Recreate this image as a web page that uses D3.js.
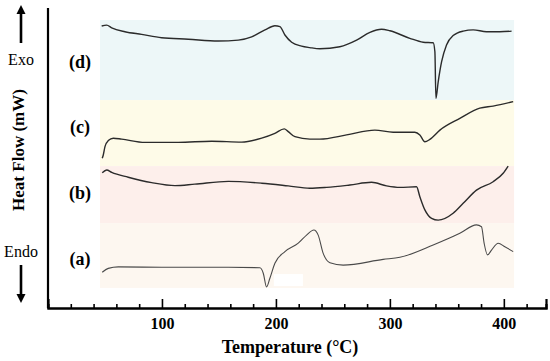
<!DOCTYPE html>
<html>
<head>
<meta charset="utf-8">
<script src="https://cdn.jsdelivr.net/npm/d3@7"></script>
<style>
	body { margin: 0; background: #fff; }
</style>
</head>
<body>
<div id="chart"></div>
<script>
var w = 550;
var h = 361;
var serif = "'Liberation Serif', 'Times New Roman', serif";

// temperature (C), heat flow (arbitrary, curves stacked)
var curveD = [[47.1,94.0],[51.5,94.3],[55.9,93.4],[67.5,92.1],[82.2,91.2],[99.7,90.1],[123.1,89.6],[149.4,89.0],[167,89.3],[178.7,90.4],[190.4,92.7],[199.1,94.1],[203.5,93.8],[207.9,91.0],[213.8,88.6],[222.5,87.3],[229.8,86.8],[238.6,86.4],[256.1,87.1],[270.8,89.3],[282.5,91.9],[292.7,92.9],[300,92.4],[317.5,89.9],[329.2,88.6],[338,88.4],[339.5,85.4],[340.4,69.9],[342.4,75.4],[345.4,82.1],[349.7,87.7],[355.5,90.8],[364.3,92.3],[373.1,92.7],[384.8,92.1],[396.5,92.1],[406.8,92.3]];
var curveC = [[47.6,49.9],[48.5,51],[50,53.8],[52.9,55.8],[57.3,56.6],[64.6,56.3],[85.1,55.2],[114.3,55.2],[143.6,55.6],[169.9,55.3],[187.5,56.6],[199.1,58.2],[207.3,59.7],[210.8,58.8],[216.7,57.1],[229.8,56.3],[238.6,56.3],[262,57.7],[286.8,59.3],[302.9,58.6],[321.9,58.6],[326.3,57.7],[330.7,55.4],[335.1,56.2],[343.9,59.3],[361.4,63.2],[378.9,66.6],[390.6,67.3],[408.2,68.8]];
var curveB = [[47.6,45.1],[51.5,46],[55.9,45.2],[70.4,43.6],[91,41.8],[111.4,40.8],[128.9,41.3],[158.2,42.2],[187.5,41.6],[210.8,40.7],[229.8,39.9],[244.5,40.2],[264.9,41],[283.9,41.9],[297.1,40.7],[308.8,40.2],[323.4,40.4],[326.3,37.1],[330.7,32.7],[336.6,29.9],[342.4,29.3],[355.5,31.6],[364.3,34.9],[376,39.3],[390.6,42.1],[399.4,44.9],[403.8,47.3]];
var curveA = [[47.6,11.9],[52.9,13.2],[61.7,13.7],[99.7,13.6],[158.2,13.6],[186,13.4],[188.9,11.6],[191.8,7],[194.7,9.9],[199.1,14.9],[207.9,18.8],[219.6,21.6],[226.9,24.3],[233.3,26],[237.1,24.3],[241.5,18.2],[247.4,15.1],[259,14.3],[294.1,16.2],[308.8,16.9],[338,21],[361.4,24.9],[376,27.7],[380.4,27.1],[382.7,21.6],[385.7,17.7],[389.2,19.3],[395,21.6],[400.9,20.4],[408.2,18.8]];

var curveLabels = ["(d)", "(c)", "(b)", "(a)"];
var labelValues = [80, 58.5, 36.5, 14.5];

// background bands: [t0, t1, v0, v1]
var bands = [[45.6, 409, 69.3, 96], [45.6, 409, 47.3, 69.3], [45.6, 409, 28.3, 47.3], [45.6, 409, 6.7, 28.3]];
var bandColors = ["#edf7f8", "#fefbe8", "#fdefeb", "#fdf7f0"];
var whitePatch = [198.2, 223.7, 7.3, 11.3];

var majorTicks = [100, 200, 300, 400];
var minorTicks = [20, 40, 60, 80, 120, 140, 160, 180, 220, 240, 260, 280, 320, 340, 360, 380, 420];

var x = d3.scaleLinear().domain([0, 437]).range([48, 546]);
var y = d3.scaleLinear().domain([0, 100]).range([308, 8]);

var svg = d3.select("#chart").append("svg")
	.attr("width", w)
	.attr("height", h);

svg.selectAll("rect.band")
	.data(bands)
	.enter()
	.append("rect")
	.attr("class", "band")
	.attr("x", d => x(d[0]))
	.attr("y", d => y(d[3]))
	.attr("width", d => x(d[1]) - x(d[0]))
	.attr("height", d => y(d[2]) - y(d[3]))
	.attr("fill", (d, i) => bandColors[i]);

svg.append("rect")
	.attr("x", x(whitePatch[0]))
	.attr("y", y(whitePatch[3]))
	.attr("width", x(whitePatch[1]) - x(whitePatch[0]))
	.attr("height", y(whitePatch[2]) - y(whitePatch[3]))
	.attr("fill", "#fff");

var line = d3.line()
	.x(d => x(d[0]))
	.y(d => y(d[1]))
	.curve(d3.curveMonotoneX);

var curves = [curveD, curveC, curveB, curveA];
svg.selectAll("path.curve")
	.data(curves)
	.enter()
	.append("path")
	.attr("class", "curve")
	.attr("d", line)
	.attr("fill", "none")
	.attr("stroke", (d, i) => i === 3 ? "#4a4a4a" : "#2b2b2b")
	.attr("stroke-width", (d, i) => i === 3 ? 1.1 : 1.4)
	.attr("stroke-linejoin", "round");

// x axis: minor then major ticks, pointing inward
var minorAxis = d3.axisBottom(x).tickValues(minorTicks).tickSize(-4).tickFormat("");
var majorAxis = d3.axisBottom(x).tickValues(majorTicks).tickSize(-9).tickPadding(10).tickFormat(d3.format("d"));

var gMinor = svg.append("g").attr("transform", "translate(0," + y(0) + ")").call(minorAxis);
var gMajor = svg.append("g").attr("transform", "translate(0," + y(0) + ")").call(majorAxis);
[gMinor, gMajor].forEach(g => {
	g.select(".domain").attr("stroke", "#000").attr("stroke-width", 2.2);
	g.selectAll(".tick line").attr("stroke", "#000").attr("stroke-width", 1.6);
});
gMajor.attr("font-family", serif);
gMajor.selectAll(".tick text")
	.attr("font-family", serif)
	.attr("font-size", 16)
	.attr("font-weight", "bold")
	.attr("fill", "#000");

// y axis, no ticks
svg.append("line")
	.attr("x1", x(0)).attr("x2", x(0))
	.attr("y1", y(0)).attr("y2", y(100))
	.attr("stroke", "#000")
	.attr("stroke-width", 2.2);

svg.append("text")
	.attr("x", 290)
	.attr("y", 353)
	.attr("text-anchor", "middle")
	.attr("font-family", serif)
	.attr("font-size", 18)
	.attr("font-weight", "bold")
	.text("Temperature (°C)");

svg.append("text")
	.attr("transform", "translate(24,150) rotate(-90)")
	.attr("text-anchor", "middle")
	.attr("font-family", serif)
	.attr("font-size", 17)
	.attr("font-weight", "bold")
	.text("Heat Flow (mW)");

svg.selectAll("text.lab")
	.data(curveLabels)
	.enter()
	.append("text")
	.attr("class", "lab")
	.attr("x", 80)
	.attr("y", (d, i) => y(labelValues[i]))
	.attr("text-anchor", "middle")
	.attr("font-family", serif)
	.attr("font-size", 18)
	.attr("font-weight", "bold")
	.text(d => d);

svg.append("text")
	.attr("x", 21).attr("y", 65)
	.attr("text-anchor", "middle")
	.attr("font-family", serif)
	.attr("font-size", 16)
	.text("Exo");

svg.append("text")
	.attr("x", 21).attr("y", 257)
	.attr("text-anchor", "middle")
	.attr("font-family", serif)
	.attr("font-size", 16)
	.text("Endo");

// exo / endo arrows
function arrow(x0, yTail, yTip) {
	var dir = yTip < yTail ? 1 : -1;
	svg.append("line")
		.attr("x1", x0).attr("x2", x0)
		.attr("y1", yTail).attr("y2", yTip + dir * 8)
		.attr("stroke", "#000")
		.attr("stroke-width", 2.6);
	svg.append("path")
		.attr("d", "M" + (x0 - 4.5) + "," + (yTip + dir * 9) + "L" + x0 + "," + yTip + "L" + (x0 + 4.5) + "," + (yTip + dir * 9) + "Z")
		.attr("fill", "#000");
}
arrow(21, 43, 5);
arrow(21, 265, 303);
</script>
</body>
</html>
